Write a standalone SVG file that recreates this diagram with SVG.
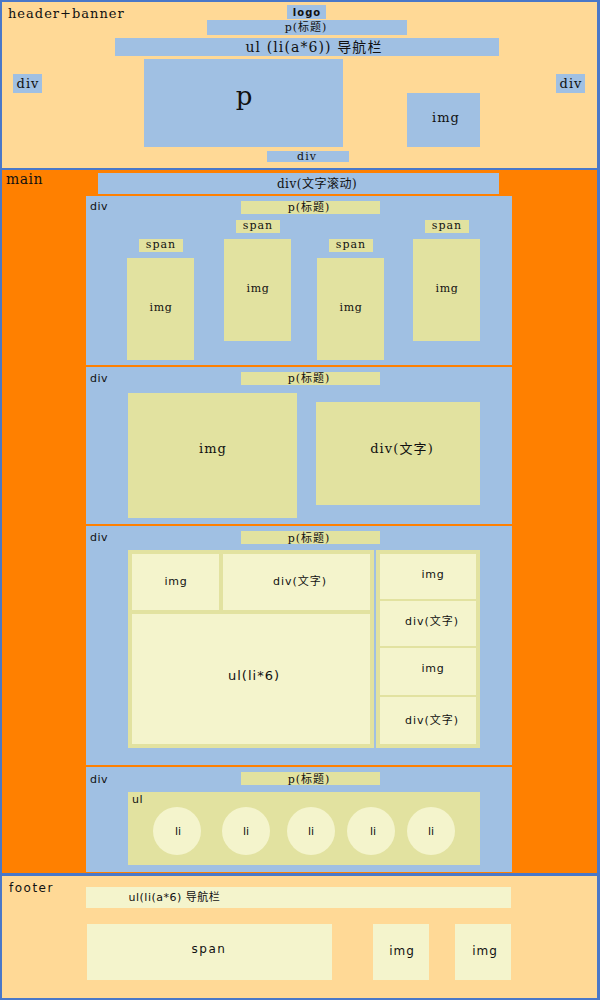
<svg xmlns="http://www.w3.org/2000/svg" width="600" height="1000" viewBox="0 0 600 1000">
<style>
.hb{fill:#FFD996}
.or{fill:#FF8000}
.bl{fill:#A0C0E3}
.yg{fill:#E2E2A0}
.cr{fill:#F4F4CC}
text{fill:#111}
.sf{font-family:"DejaVu Serif","Liberation Serif","Noto Sans CJK SC",serif}
.ss{font-family:"DejaVu Sans","Noto Sans CJK SC",sans-serif}
.m{text-anchor:middle}
</style>
<rect x="0" y="0" width="600" height="1000" fill="#4A78C8"/>
<g id="header">
<rect class="hb" x="2" y="2" width="595" height="166"/>
<text class="sf" x="8" y="18" font-size="13" letter-spacing="1">header+banner</text>
</g>
<g id="logo"><rect class="bl" x="287" y="5" width="39" height="14"/><text class="ss m" x="307" y="16" font-size="10" font-weight="bold" letter-spacing="1">logo</text></g>
<g id="header-title"><rect class="bl" x="207" y="20" width="200" height="15"/><text class="sf m" x="306" y="31" font-size="11" letter-spacing="1">p(标题)</text></g>
<g id="header-nav"><rect class="bl" x="115" y="38" width="384" height="18"/><text class="sf m" x="314" y="51.5" font-size="14" letter-spacing="1.1">ul (li(a*6)) 导航栏</text></g>
<g id="header-div-left"><rect class="bl" x="13" y="74" width="29" height="19"/><text class="sf m" x="28" y="88" font-size="13" letter-spacing="1">div</text></g>
<g id="header-p"><rect class="bl" x="144" y="59" width="199" height="88"/><text class="sf m" x="244" y="105" font-size="26">p</text></g>
<g id="header-img"><rect class="bl" x="407" y="93" width="73" height="54"/><text class="sf m" x="446" y="122" font-size="13" letter-spacing="1">img</text></g>
<g id="header-div-right"><rect class="bl" x="556" y="74" width="29" height="19"/><text class="sf m" x="571" y="88" font-size="13" letter-spacing="1">div</text></g>
<g id="header-div-bottom"><rect class="bl" x="267" y="151" width="82" height="11"/><text class="sf m" x="307" y="160" font-size="11" letter-spacing="1">div</text></g>

<g id="main">
<rect class="or" x="2" y="170" width="595" height="703"/>
<text class="sf" x="6" y="184" font-size="14" letter-spacing="0.5">main</text>
</g>
<g id="marquee"><rect class="bl" x="98" y="173" width="401" height="21"/><text class="sf m" x="317" y="188" font-size="12" letter-spacing="0.5">div(文字滚动)</text></g>

<g id="section1">
<rect class="bl" x="86" y="196" width="426" height="169"/>
<text class="ss" x="90" y="210" font-size="11" letter-spacing="0.5">div</text>
<rect class="yg" x="241" y="201" width="139" height="13"/>
<text class="sf m" x="309" y="211" font-size="11" letter-spacing="1">p(标题)</text>
</g>
<g id="s1-item1"><rect class="yg" x="139" y="239" width="44" height="13"/><text class="sf m" x="161" y="247.5" font-size="11" letter-spacing="1">span</text><rect class="yg" x="127" y="258" width="67" height="102"/><text class="sf m" x="161" y="311" font-size="11" letter-spacing="0.7">img</text></g>
<g id="s1-item2"><rect class="yg" x="236" y="220" width="44" height="13"/><text class="sf m" x="258" y="228.5" font-size="11" letter-spacing="1">span</text><rect class="yg" x="224" y="239" width="67" height="102"/><text class="sf m" x="258" y="292" font-size="11" letter-spacing="0.7">img</text></g>
<g id="s1-item3"><rect class="yg" x="329" y="239" width="44" height="13"/><text class="sf m" x="351" y="247.5" font-size="11" letter-spacing="1">span</text><rect class="yg" x="317" y="258" width="67" height="102"/><text class="sf m" x="351" y="311" font-size="11" letter-spacing="0.7">img</text></g>
<g id="s1-item4"><rect class="yg" x="425" y="220" width="44" height="13"/><text class="sf m" x="447" y="228.5" font-size="11" letter-spacing="1">span</text><rect class="yg" x="413" y="239" width="67" height="102"/><text class="sf m" x="447" y="292" font-size="11" letter-spacing="0.7">img</text></g>

<g id="section2">
<rect class="bl" x="86" y="367" width="426" height="157"/>
<text class="ss" x="90" y="382" font-size="11" letter-spacing="0.5">div</text>
<rect class="yg" x="241" y="372" width="139" height="13"/>
<text class="sf m" x="309" y="382" font-size="11" letter-spacing="1">p(标题)</text>
</g>
<g id="s2-img"><rect class="yg" x="128" y="393" width="169" height="125"/><text class="sf m" x="213" y="453" font-size="13" letter-spacing="1">img</text></g>
<g id="s2-text"><rect class="yg" x="316" y="402" width="164" height="103"/><text class="sf m" x="402" y="453" font-size="13" letter-spacing="1.1">div(文字)</text></g>

<g id="section3">
<rect class="bl" x="86" y="526" width="426" height="239"/>
<text class="ss" x="90" y="541" font-size="11" letter-spacing="0.5">div</text>
<rect class="yg" x="241" y="531" width="139" height="13"/>
<text class="sf m" x="309" y="541.5" font-size="11" letter-spacing="1">p(标题)</text>
</g>
<g id="s3-left">
<rect class="yg" x="128" y="550" width="246" height="198"/>
<rect class="cr" x="132" y="554" width="87" height="56"/><text class="ss m" x="176" y="585" font-size="11" letter-spacing="0.7">img</text>
<rect class="cr" x="223" y="554" width="147" height="56"/><text class="ss m" x="300" y="585" font-size="11" letter-spacing="1">div(文字)</text>
<rect class="cr" x="132" y="614" width="238" height="130"/><text class="ss m" x="254" y="680" font-size="13" letter-spacing="1">ul(li*6)</text>
</g>
<g id="s3-right">
<rect class="yg" x="376" y="550" width="104" height="198"/>
<rect class="cr" x="380" y="554" width="96" height="45"/><text class="ss m" x="433" y="578" font-size="11" letter-spacing="0.7">img</text>
<rect class="cr" x="380" y="601" width="96" height="45"/><text class="ss m" x="432" y="625" font-size="11" letter-spacing="1">div(文字)</text>
<rect class="cr" x="380" y="648" width="96" height="47"/><text class="ss m" x="433" y="672" font-size="11" letter-spacing="0.7">img</text>
<rect class="cr" x="380" y="697" width="96" height="47"/><text class="ss m" x="432" y="724" font-size="11" letter-spacing="1">div(文字)</text>
</g>

<g id="section4">
<rect class="bl" x="86" y="767" width="426" height="105"/>
<text class="ss" x="90" y="783" font-size="11" letter-spacing="0.5">div</text>
<rect class="yg" x="241" y="772" width="139" height="13"/>
<text class="sf m" x="309" y="782.5" font-size="11" letter-spacing="1">p(标题)</text>
</g>
<g id="s4-ul">
<rect class="yg" x="128" y="792" width="352" height="73"/>
<text class="ss" x="132" y="803" font-size="11" letter-spacing="0.5">ul</text>
<circle class="cr" cx="177" cy="831" r="24"/><text class="ss m" x="178" y="835" font-size="11">li</text>
<circle class="cr" cx="246" cy="831" r="24"/><text class="ss m" x="246" y="835" font-size="11">li</text>
<circle class="cr" cx="311" cy="831" r="24"/><text class="ss m" x="311" y="835" font-size="11">li</text>
<circle class="cr" cx="371" cy="831" r="24"/><text class="ss m" x="373" y="835" font-size="11">li</text>
<circle class="cr" cx="431" cy="831" r="24"/><text class="ss m" x="431" y="835" font-size="11">li</text>
</g>

<g id="footer">
<rect class="hb" x="2" y="876" width="595" height="122"/>
<text class="ss" x="9" y="892" font-size="12" letter-spacing="1.5">footer</text>
</g>
<g id="footer-nav"><rect class="cr" x="86" y="887" width="425" height="21"/><text class="ss" x="128.5" y="901" font-size="11" letter-spacing="0.5">ul(li(a*6) 导航栏</text></g>
<g id="footer-span"><rect class="cr" x="87" y="924" width="245" height="56"/><text class="ss m" x="209" y="953" font-size="12" letter-spacing="1.5">span</text></g>
<g id="footer-img1"><rect class="cr" x="373" y="924" width="56" height="56"/><text class="ss m" x="402" y="955" font-size="12" letter-spacing="1">img</text></g>
<g id="footer-img2"><rect class="cr" x="455" y="924" width="56" height="56"/><text class="ss m" x="485" y="955" font-size="12" letter-spacing="1">img</text></g>
<g id="connectors"/>
</svg>
